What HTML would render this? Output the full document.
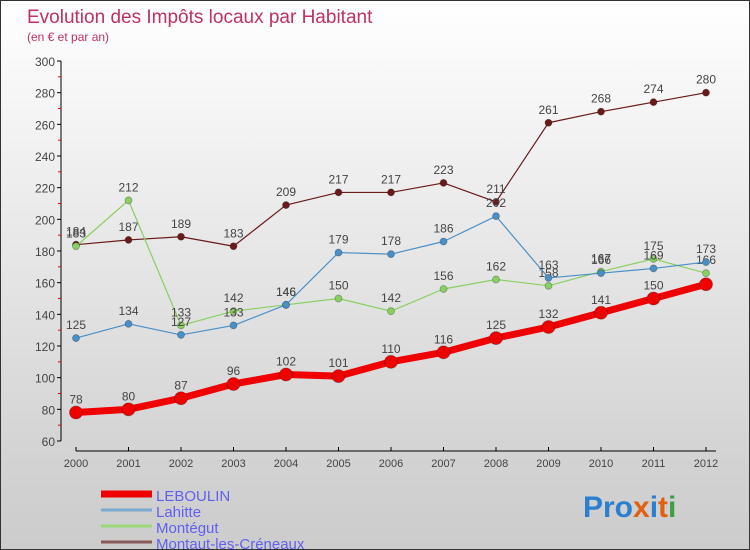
<!DOCTYPE html>
<html><head><meta charset="utf-8"><style>
body{margin:0}
#c{position:relative;width:750px;height:550px;box-sizing:border-box;border:1px solid #333;background:linear-gradient(#ffffff,#d2d2d2 85%,#cccccc);font-family:"Liberation Sans",sans-serif;overflow:hidden}
svg text{font-family:"Liberation Sans",sans-serif}
</style></head><body>
<div id="c">
<svg id="s" width="750" height="550">
<text x="26" y="22" font-size="19" fill="#c03060">Evolution des Impôts locaux par Habitant</text>
<text x="26" y="40" font-size="12" fill="#c03060">(en € et par an)</text>
<g id="axes"></g><g id="series"></g><g id="legend"></g>
<text x="582" y="516" font-size="30" font-weight="bold"><tspan fill="#2a7fd0">Pro</tspan><tspan fill="#e06010">x</tspan><tspan fill="#2a7fd0">i</tspan><tspan fill="#e06010">t</tspan><tspan fill="#3aa040">i</tspan></text>
</svg>
</div>
<script>
const years=[2000,2001,2002,2003,2004,2005,2006,2007,2008,2009,2010,2011,2012];
const yTicks=[60,80,100,120,140,160,180,200,220,240,260,280,300];
const leboulin=[78,80,87,96,102,101,110,116,125,132,141,150,159];
const lahitte=[125,134,127,133,146,179,178,186,202,163,166,169,173];
const montegut=[183,212,133,142,146,150,142,156,162,158,167,175,166];
const montaut=[184,187,189,183,209,217,217,223,211,261,268,274,280];
const NS='http://www.w3.org/2000/svg';
const X=i=>75+i*52.5, Y=v=>440-(v-60)*380/240;
function mk(tag,a,p,txt){const e=document.createElementNS(NS,tag);for(const k in a)e.setAttribute(k,a[k]);if(txt!==undefined)e.textContent=txt;p.appendChild(e);return e;}
const ax=document.getElementById('axes');
let e=mk('line',{x1:60,y1:60,x2:60,y2:440,stroke:'#000'},ax);


e=mk('line',{x1:75,y1:450,x2:715,y2:450,stroke:'#000'},ax);


yTicks.forEach((v,i)=>{
 mk('line',{x1:56,y1:Y(v),x2:60,y2:Y(v),stroke:'#000'},ax);
 if(i<yTicks.length-1)mk('line',{x1:57,y1:Y(v+10),x2:60,y2:Y(v+10),stroke:'#e00'},ax);
 e=mk('text',{x:54,y:Y(v)+5,'font-size':12,fill:'#444','text-anchor':'end'},ax,v);
 
 
});
years.forEach((y,i)=>{
 mk('line',{x1:X(i),y1:446,x2:X(i),y2:450,stroke:'#000'},ax);
 e=mk('text',{x:X(i),y:466,'font-size':11,fill:'#444','text-anchor':'middle'},ax,y);
 
 
});
const sg=document.getElementById('series');
function draw(d,col,w,r,name,labels,last){
 const g=mk('g',{},sg);
 
 
 mk('polyline',{points:d.map((v,i)=>X(i)+','+Y(v)).join(' '),fill:'none',stroke:col,'stroke-width':w,'stroke-linejoin':'round'},g);
 d.forEach((v,i)=>{
  const c=mk('circle',{cx:X(i),cy:Y(v),r:r,fill:col,stroke:'rgba(0,0,0,0.3)','stroke-width':0.8},g);
  
  
  if(labels&&(last||i<d.length-1)){
   const t=mk('text',{x:X(i),y:Y(v)-9,'font-size':12,fill:'#444','text-anchor':'middle'},g,v);
   
   
  }
 });
}
draw(montaut,'#6b1a1a',1.2,3.5,'montaut',true,true);
draw(montegut,'#88d060',1.2,3.5,'montegut',true,true);
draw(lahitte,'#4a90c8',1.2,3.5,'lahitte',true,true);
draw(leboulin,'#f00000',7,6.5,'leboulin',true,false);
const lg=document.getElementById('legend');
[['LEBOULIN','#f00000',7],['Lahitte','#7aaad0',3],['Montégut','#98d878',3],['Montaut-les-Créneaux','#8a5a5a',3]].forEach((s,i)=>{
 const y=493+i*16;
 mk('line',{x1:100,y1:y,x2:151,y2:y,stroke:s[1],'stroke-width':s[2]},lg);
 const t=mk('text',{x:155,y:y+7,'font-size':15,fill:'#6060f0'},lg,s[0]);
 
 
});
</script>
</body></html>
